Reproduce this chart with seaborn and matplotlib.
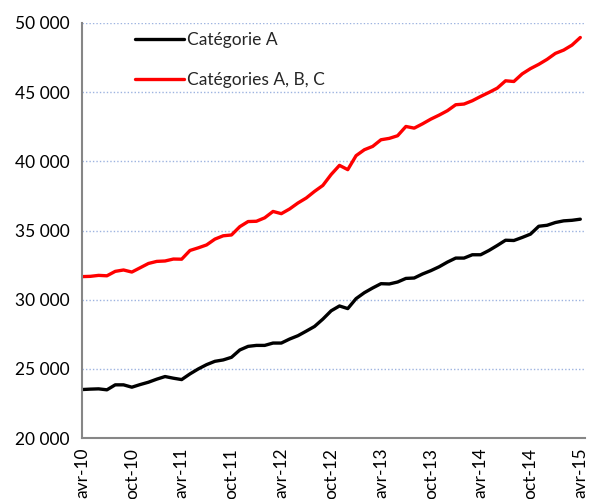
import numpy as np
import pandas as pd
import matplotlib
matplotlib.use('Agg')
import matplotlib.pyplot as plt
import seaborn as sn
from matplotlib.ticker import FuncFormatter

# monthly values, avr-10 .. avr-15
cat_a = [23510, 23540, 23560, 23490, 23850, 23850, 23680, 23870, 24040, 24260,
         24450, 24330, 24230, 24640, 25000, 25310, 25550, 25650, 25840, 26370,
         26630, 26700, 26700, 26870, 26870, 27160, 27400, 27730, 28070, 28600,
         29200, 29550, 29360, 30080, 30510, 30850, 31160, 31140, 31280, 31540,
         31570, 31860, 32100, 32380, 32720, 33010, 33010, 33250, 33250, 33560,
         33920, 34300, 34280, 34500, 34740, 35310, 35380, 35580, 35700, 35740,
         35820]
cat_abc = [31670, 31690, 31760, 31730, 32050, 32150, 32000, 32310, 32620, 32770,
           32800, 32940, 32930, 33560, 33750, 33960, 34380, 34620, 34680, 35280,
           35650, 35670, 35920, 36380, 36220, 36560, 36990, 37350, 37830, 38260,
           39050, 39710, 39400, 40410, 40840, 41080, 41560, 41660, 41850, 42520,
           42400, 42710, 43050, 43340, 43660, 44090, 44140, 44380, 44690, 44980,
           45290, 45820, 45770, 46320, 46700, 47010, 47370, 47800, 48040, 48400,
           48950]
tick_labels = ['avr-10', 'oct-10', 'avr-11', 'oct-11', 'avr-12', 'oct-12',
               'avr-13', 'oct-13', 'avr-14', 'oct-14', 'avr-15']
series_names = ['Catégorie A', 'Catégories A, B, C']

month = np.arange(len(cat_a))
df = pd.DataFrame({
    'Mois': np.concatenate([month, month]),
    'Valeur': cat_a + cat_abc,
    'Série': [series_names[0]] * len(cat_a) + [series_names[1]] * len(cat_abc),
})

sn.set_style('white')
plt.rcParams['font.family'] = ['Lato', 'DejaVu Sans']

fig = plt.figure(figsize=(5.9, 4.99), dpi=100)
ax = fig.add_axes([0.139, 0.122, 0.853, 0.832])
sn.lineplot(data=df, x='Mois', y='Valeur', hue='Série', ax=ax,
            palette=['black', '#ff0000'], linewidth=2.4, legend=True)

ax.set_ylim(20000, 50000)
ax.set_yticks(np.arange(20000, 50001, 5000))
ax.yaxis.set_major_formatter(FuncFormatter(lambda v, p: f'{int(v):,}'.replace(',', ' ')))
ax.set_xlim(0, len(cat_a) - 0.4)
ax.set_xticks(np.arange(0, len(cat_a), 6))
ax.set_xticklabels(tick_labels, rotation=90, va='top', ha='center')
ax.tick_params(axis='both', labelsize=12.5, colors='#868686', length=5, width=1,
               labelcolor='black', direction='out')
ax.tick_params(axis='x', pad=2)
ax.tick_params(axis='y', pad=4)
ax.set_xlabel('')
ax.set_ylabel('')

ax.grid(axis='y', color='#9db3e0', linestyle=(0, (1, 1.5)), linewidth=1)
ax.set_axisbelow(True)
for s in ['top', 'right']:
    ax.spines[s].set_visible(False)
for s in ['left', 'bottom']:
    ax.spines[s].set_color('#868686')
    ax.spines[s].set_linewidth(1.5)

handles, labels = ax.get_legend_handles_labels()
ax.legend(handles, labels, loc='upper left', bbox_to_anchor=(0.075, 1.015),
          frameon=False, handlelength=2.8, labelspacing=1.35, handletextpad=0.2,
          fontsize=12.5)

plt.savefig('out.png', dpi=100)
plt.close(fig)
